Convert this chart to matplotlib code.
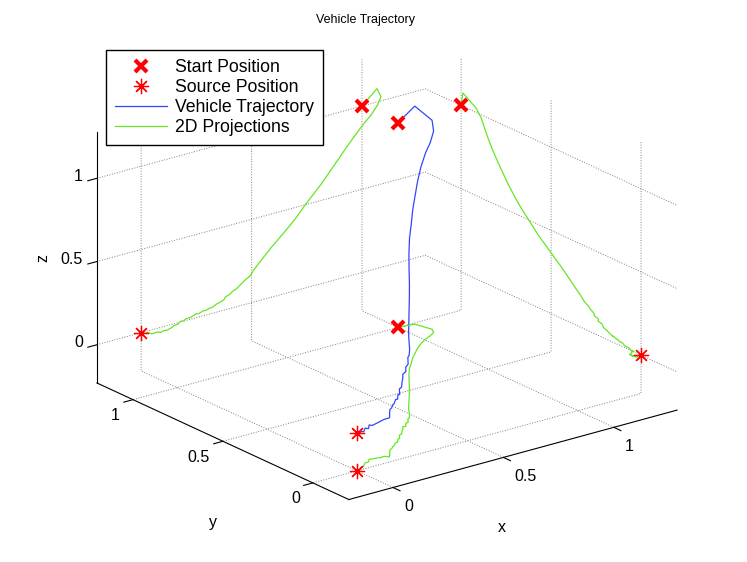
import numpy as np
import matplotlib
matplotlib.use('Agg')
import matplotlib.pyplot as plt
from mpl_toolkits.mplot3d import proj3d

# vehicle path, start -> source
traj_x = [1.0, 1.068, 1.086, 1.07, 1.04, 1.007, 0.965, 0.925, 0.89, 0.855,
          0.82, 0.78, 0.74, 0.704, 0.665, 0.628, 0.59, 0.552,
          0.535, 0.524, 0.508, 0.494, 0.473, 0.464, 0.444, 0.432, 0.413, 0.402,
          0.383, 0.374, 0.353, 0.34, 0.32, 0.312, 0.293, 0.282, 0.26, 0.25,
          0.235, 0.224, 0.203, 0.192, 0.178, 0.167, 0.148, 0.137, 0.116, 0.107,
          0.088, 0.072, 0.05, 0.032, 0.012, 0.0]
traj_y = [1.0, 0.99, 0.916, 0.888, 0.87, 0.855, 0.83, 0.80, 0.77, 0.74,
          0.705, 0.666, 0.62, 0.575, 0.525, 0.48, 0.435, 0.39,
          0.37, 0.356, 0.334, 0.314, 0.291, 0.287, 0.261, 0.259, 0.236, 0.239,
          0.216, 0.209, 0.186, 0.182, 0.156, 0.156, 0.134, 0.132, 0.114, 0.108,
          0.096, 0.092, 0.068, 0.054, 0.039, 0.054, 0.052, 0.056, 0.058, 0.064,
          0.044, 0.044, 0.024, 0.014, 0.003, 0.0]
traj_z = [1.0, 1.08, 1.025, 0.98, 0.93, 0.89, 0.83, 0.77, 0.715, 0.66,
          0.605, 0.55, 0.495, 0.44, 0.39, 0.345, 0.30, 0.25,
          0.228, 0.212, 0.19, 0.163, 0.148, 0.14, 0.12, 0.108, 0.098, 0.086,
          0.078, 0.062, 0.052, 0.048, 0.035, 0.036, 0.028, 0.03, 0.02, 0.024,
          0.016, 0.012, 0.01, 0.002, 0.004, -0.008, -0.012, -0.02, -0.028, -0.025,
          -0.03, -0.022, -0.025, -0.012, -0.008, 0.0]

tick_vals = [0, 0.5, 1]
tick_labels = ['0', '0.5', '1']
legend_labels = ['Start Position', 'Source Position', 'Vehicle Trajectory', '2D Projections']

plt.rcParams['font.family'] = ['Liberation Sans', 'DejaVu Sans']
plt.rcParams['font.size'] = 11.5
plt.rcParams['grid.linestyle'] = ':'
plt.rcParams['grid.color'] = '0.5'
plt.rcParams['grid.linewidth'] = 0.7

W, H = 747, 562
fig = plt.figure(figsize=(W / 100, H / 100), dpi=100)
ax = fig.add_axes([0.1, 0.1, 0.8, 0.8], projection='3d', proj_type='ortho')
ax.computed_zorder = False

x = np.array(traj_x)
y = np.array(traj_y)
z = np.array(traj_z)

# axes padded by 0.2 around the data, like the original
xlim = (x.min() - 0.2, x.max() + 0.2)
ylim = (y.min() - 0.2, y.max() + 0.2)
zlim = (z.min() - 0.2, z.max() + 0.2)
ax.set_xlim(xlim)
ax.set_ylim(ylim)
ax.set_zlim(zlim)

traj_color = '#3344ff'
proj_color = '#66e622'

h_traj, = ax.plot(x, y, z, color=traj_color, lw=0.9, zorder=2)
h_proj, = ax.plot(x, np.full_like(x, ylim[1]), z, color=proj_color, lw=0.9, zorder=2)
ax.plot(np.full_like(x, xlim[1]), y, z, color=proj_color, lw=0.9, zorder=2)
ax.plot(x, y, np.full_like(z, zlim[0]), color=proj_color, lw=0.9, zorder=2)

# start and source, in 3D and on each projection plane
for i, mk in [(0, 'start'), (-1, 'source')]:
    px = [x[i], x[i], xlim[1], x[i]]
    py = [y[i], ylim[1], y[i], y[i]]
    pz = [z[i], z[i], z[i], zlim[0]]
    if mk == 'start':
        h_start, = ax.plot(px, py, pz, ls='none', marker='x', ms=8, mew=3,
                           color='red', zorder=3)
    else:
        h_src, = ax.plot(px, py, pz, ls='none', marker=(8, 2, 0), ms=11, mew=0.9,
                         color='red', zorder=3)

ax.view_init(elev=20.8, azim=-127.5)
ax.set_box_aspect((1, 1, 0.65))

ax.set_xticks(tick_vals)
ax.set_yticks(tick_vals)
ax.set_zticks(tick_vals)
# tick labels are written below as plain text, MATLAB style
ax.set_xticklabels([])
ax.set_yticklabels([])
ax.set_zticklabels([])

for axis in (ax.xaxis, ax.yaxis, ax.zaxis):
    axis.set_pane_color((1, 1, 1, 0))
    axis.pane.set_edgecolor((1, 1, 1, 0))
    axis.line.set_color('k')
    axis.line.set_linewidth(0.8)
    axis._axinfo['tick']['inward_factor'] = 0.35
    axis._axinfo['tick']['outward_factor'] = 0.0

fig.text(366 / W, 1 - 20 / H, 'Vehicle Trajectory', ha='center', va='center', fontsize=9)

fig.legend([h_start, h_src, h_traj, h_proj], legend_labels, loc='upper left',
           bbox_to_anchor=(106 / W, 1 - 50 / H), borderaxespad=0, fancybox=False,
           edgecolor='k', framealpha=1, fontsize=12.7, handlelength=2.95,
           handletextpad=0.45, labelspacing=0.17, borderpad=0.5, numpoints=1)


# move the (square) 3D box so its floor corners land where the original has them
def to_px(pt):
    u, v, _ = proj3d.proj_transform(pt[0], pt[1], pt[2], ax.get_proj())
    return ax.transData.transform((u, v))

fig.canvas.draw()
bb = ax.bbox
a = to_px((xlim[0], ylim[1], zlim[0]))
b = to_px((xlim[1], ylim[0], zlim[0]))
na = ((a[0] - bb.x0) / bb.width, (a[1] - bb.y0) / bb.height)
nb = ((b[0] - bb.x0) / bb.width, (b[1] - bb.y0) / bb.height)
tgt_a = (97, H - 383)
tgt_b = (677, H - 411)
qw = (tgt_b[0] - tgt_a[0]) / (nb[0] - na[0])
qx0 = tgt_a[0] - na[0] * qw
qy0 = tgt_a[1] - na[1] * qw
ax.set_position([qx0 / W, qy0 / H, qw / W, qw / H])
fig.canvas.draw()

for v, lab in zip(tick_vals, tick_labels):
    px, py = to_px((v, ylim[0], zlim[0]))
    fig.text((px + 11) / W, (py - 19) / H, lab, ha='left', va='center')
    px, py = to_px((xlim[0], v, zlim[0]))
    fig.text((px - 13) / W, (py - 16) / H, lab, ha='right', va='center')
    px, py = to_px((xlim[0], ylim[1], v))
    fig.text((px - 14) / W, (py + 2) / H, lab, ha='right', va='center')

fig.text(502 / W, 1 - 528 / H, 'x', ha='center', va='center')
fig.text(213 / W, 1 - 522 / H, 'y', ha='center', va='center')
fig.text(43 / W, 1 - 258 / H, 'z', ha='center', va='center', rotation=90)

fig.savefig('out.png', dpi=100)
